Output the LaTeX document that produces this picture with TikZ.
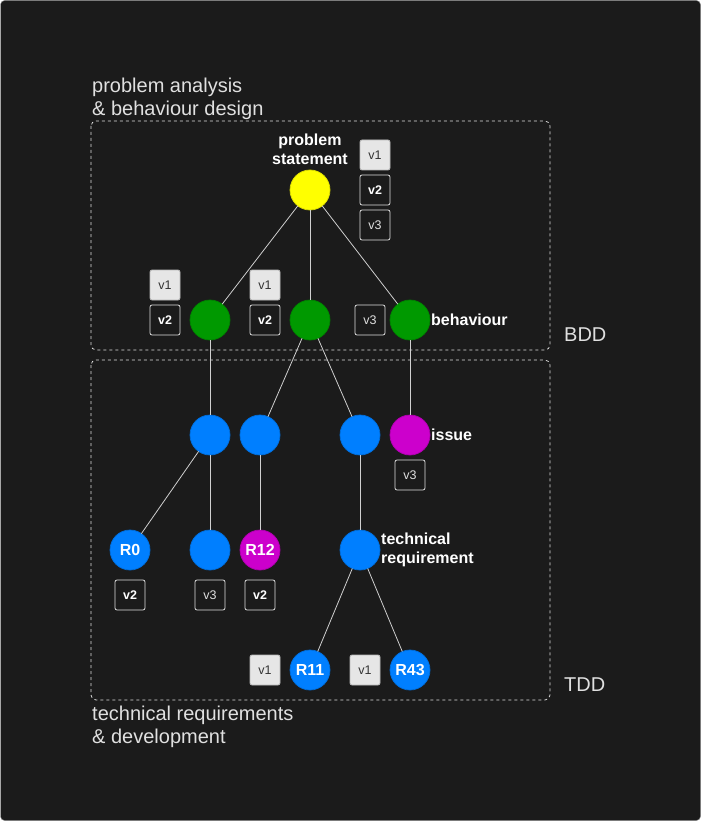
\documentclass[tikz,border=0pt]{standalone}
\usepackage{fontspec}
\setmainfont{Liberation Sans}
\usetikzlibrary{positioning}
\definecolor{bg}{HTML}{1B1B1B}
\definecolor{frame}{HTML}{9A9A9A}
\definecolor{fg}{HTML}{E0E0E0}
\definecolor{link}{HTML}{D0D0D0}
\definecolor{psyellow}{HTML}{FFFF00}
\definecolor{bhgreen}{HTML}{009900}
\definecolor{trblue}{HTML}{007FFF}
\definecolor{ismag}{HTML}{CC00CC}
\definecolor{vfill}{HTML}{E6E6E6}
\definecolor{vtext}{HTML}{333333}
\tikzset{
task/.style = {circle, minimum size=40pt, inner sep=0pt, outer sep=0pt, text=white,
               line width=0.75pt, font=\fontsize{16}{19}\selectfont\bfseries},
ver/.style = {draw=fg, rounded corners=2pt, minimum size=30pt, inner sep=0pt, outer sep=0pt,
              line width=0.75pt, text=white, font=\fontsize{12.5}{14}\selectfont\bfseries},
verold/.style = {ver, fill=vfill, draw=vfill!80!black, text=vtext,
                 font=\fontsize{12.5}{14}\selectfont},
verlast/.style = {ver, text=fg, font=\fontsize{12.5}{14}\selectfont},
tag/.style = {inner sep=1pt, text=white, font=\fontsize{16}{19}\selectfont\bfseries},
group/.style = {draw=fg, line width=0.75pt, dash pattern=on 3pt off 3pt, rounded corners=5pt},
grouptext/.style = {inner sep=0pt, text=fg, font=\fontsize{20}{23}\selectfont},
link/.style = {draw=link, line width=0.8pt},
}

\begin{document}
\begin{tikzpicture}[x=1pt, y=-1pt]
    \useasboundingbox (0,0) rectangle (701,821);
    \draw[frame, fill=bg, rounded corners=4pt] (0.5,0.5) rectangle (700.5,820.5);

    % groups
    \draw[group] (91,121) rectangle (550,350);
    \draw[group] (91,360) rectangle (550,700);
    \node[grouptext, anchor=north west, align=left] (bddtext) at (92,78) {problem analysis\\\& behaviour design};
    \node[grouptext, anchor=north west, align=left] (tddtext) at (92,706) {technical requirements\\\& development};
    \node[grouptext, anchor=west] (bdd) at (564,335) {BDD};
    \node[grouptext, anchor=west] (tdd) at (564,685) {TDD};

    % problem and behaviours
    \node[task, fill=psyellow, draw=psyellow!85!black] (ps) at (310,190) {};
    \node[task, fill=bhgreen, draw=bhgreen!85!black, below=90pt of ps] (b2) {};
    \node[task, fill=bhgreen, draw=bhgreen!85!black, left=60pt of b2] (b1) {};
    \node[task, fill=bhgreen, draw=bhgreen!85!black, right=60pt of b2] (b3) {};

    % technical requirements
    \node[task, fill=trblue, draw=trblue!85!black, below=75pt of b1] (t1) {};
    \node[task, fill=trblue, draw=trblue!85!black, right=10pt of t1] (t2) {};
    \node[task, fill=trblue, draw=trblue!85!black, right=60pt of t2] (t3) {};
    \node[task, fill=ismag, draw=ismag!85!black, right=10pt of t3] (is) {};
    \node[task, fill=trblue, draw=trblue!85!black, below=75pt of t1] (t4) {};
    \node[task, fill=trblue, draw=trblue!85!black, left=40pt of t4] (r0) {R0};
    \node[task, fill=ismag, draw=ismag!85!black, right=10pt of t4] (r12) {R12};
    \node[task, fill=trblue, draw=trblue!85!black, below=75pt of t3] (tr) {};
    \node[task, fill=trblue, draw=trblue!85!black] (r11) at (310,670) {R11};
    \node[task, fill=trblue, draw=trblue!85!black] (r43) at (410,670) {R43};

    % labels
    \node[tag, above=4pt of ps, align=center] (pstext) {problem\\statement};
    \node[tag, right=0pt of b3] (b3text) {behaviour};
    \node[tag, right=0pt of is] (istext) {issue};
    \node[tag, right=0pt of tr, align=left] (trtext) {technical\\requirement};

    % versions
    \node[ver, right=30pt of ps] (psv2) {v2};
    \node[verold, above=5pt of psv2] (psv1) {v1};
    \node[verlast, below=5pt of psv2] (psv3) {v3};
    \node[ver, left=10pt of b1] (b1v2) {v2};
    \node[verold, above=5pt of b1v2] (b1v1) {v1};
    \node[ver, left=10pt of b2] (b2v2) {v2};
    \node[verold, above=5pt of b2v2] (b2v1) {v1};
    \node[verlast, left=5pt of b3] (b3v3) {v3};
    \node[verlast, below=5pt of is] (isv3) {v3};
    \node[ver, below=10pt of r0] (r0v2) {v2};
    \node[verlast, below=10pt of t4] (t4v3) {v3};
    \node[ver, below=10pt of r12] (r12v2) {v2};
    \node[verold, left=10pt of r11] (r11v1) {v1};
    \node[verold, left=10pt of r43] (r43v1) {v1};

    \path
    (ps) edge[link] (b1)
    (ps) edge[link] (b2)
    (ps) edge[link] (b3)
    (b1) edge[link] (t1)
    (b2) edge[link] (t2)
    (b2) edge[link] (t3)
    (b3) edge[link] (is)
    (t1) edge[link] (r0)
    (t1) edge[link] (t4)
    (t2) edge[link] (r12)
    (t3) edge[link] (tr)
    (tr) edge[link] (r11)
    (tr) edge[link] (r43);
\end{tikzpicture}
\end{document}
